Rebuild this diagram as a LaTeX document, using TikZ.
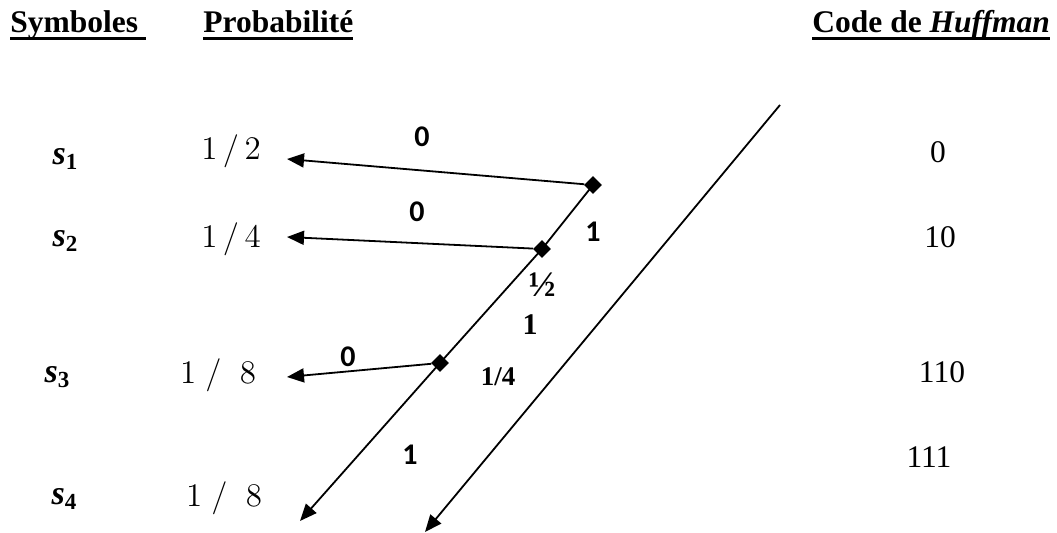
\RequirePackage{fix-cm}
\documentclass[tikz,border=0pt]{standalone}
\usepackage[no-math]{fontspec}
\setmainfont{Liberation Serif}
\newfontfamily\calfont{Carlito}
\usepackage{tikz}
\usetikzlibrary{arrows.meta,shapes.geometric}
\newcommand{\hul}[1]{\setbox0\hbox{#1}\rlap{\rule[-3.75pt]{\wd0}{1.5pt}}\box0}
\newcommand{\symb}[1]{\textit{s}\raisebox{-0.3ex}{\fontsize{11.5}{12}\selectfont #1}}
\tikzset{
  ar/.style={-{Triangle[length=8.5pt,width=7pt]},line width=0.9pt},
  knot/.style={diamond,fill=black,inner sep=0pt,minimum size=9pt},
  hdr/.style={anchor=base west,inner sep=0pt,font=\fontsize{15.75}{18}\selectfont\bfseries},
  sym/.style={inner sep=0pt,font=\fontsize{17}{19}\selectfont\bfseries},
  prob/.style={inner sep=0pt,font=\fontsize{16.5}{19}\selectfont},
  code/.style={inner sep=0pt,font=\fontsize{15.75}{18}\selectfont},
  bit/.style={inner sep=0pt,font=\fontsize{15}{17}\selectfont\calfont\bfseries},
  wt/.style={inner sep=0pt,font=\fontsize{15}{18}\selectfont\bfseries}
}
\begin{document}
\begin{tikzpicture}[x=0.5pt,y=-0.5pt]
\useasboundingbox (0,0) rectangle (1057,533);
% headings
\node[hdr] (hsym) at (10,33) {\hul{Symboles\ }};
\node[hdr] (hprob) at (203,33) {\hul{Probabilité}};
\node[hdr] (hcode) at (812,33) {\hul{Code de \textit{Huffman}}};
% symbols, probabilities, codes
\node[sym] (s1) at (65,159) {\symb{1}};
\node[sym] (s2) at (65,241) {\symb{2}};
\node[sym] (s3) at (57,377) {\symb{3}};
\node[sym] (s4) at (64,499) {\symb{4}};
\node[prob] (p1) at (231,151) {$1\,/\,2$};
\node[prob] (p2) at (231,239) {$1\,/\,4$};
\node[prob] (p3) at (218,375) {$1\;/\;\;8$};
\node[prob] (p4) at (224,498) {$1\;/\;\;8$};
\node[code] (c1) at (938,152) {0};
\node[code] (c2) at (940,237) {10};
\node[code] (c3) at (942,372) {110};
\node[code] (c4) at (929,457) {111};
% tree
\coordinate (a1) at (287,159);
\coordinate (a2) at (287,237);
\coordinate (a3) at (287,377);
\coordinate (l4) at (300,521);
\coordinate (top) at (780,105);
\coordinate (r4) at (425,532);
\node[knot] (d1) at (593,185) {};
\node[knot] (d2) at (542,249) {};
\node[knot] (d3) at (440,363) {};
\draw[ar] (d1) -- (a1);
\draw[ar] (d2) -- (a2);
\draw[ar] (d3) -- (a3);
\draw[ar] (d1.center) -- (d2.center) -- (d3.center) -- (l4);
\draw[ar] (top) -- (r4);
% branch labels
\node[bit] (b1) at (422,137) {0};
\node[bit] (b2) at (417,212) {0};
\node[bit] (b3) at (348,357) {0};
\node[bit] (b4) at (593,232) {1};
\node[bit] (b5) at (410,455) {1};
\node[wt,font=\fontsize{18}{20}\selectfont\bfseries] (w1) at (542,285) {½};
\node[wt] (w2) at (530,325) {1};
\node[wt,font=\fontsize{13.5}{16}\selectfont\bfseries] (w3) at (498,377) {1/4};
\end{tikzpicture}
\end{document}
